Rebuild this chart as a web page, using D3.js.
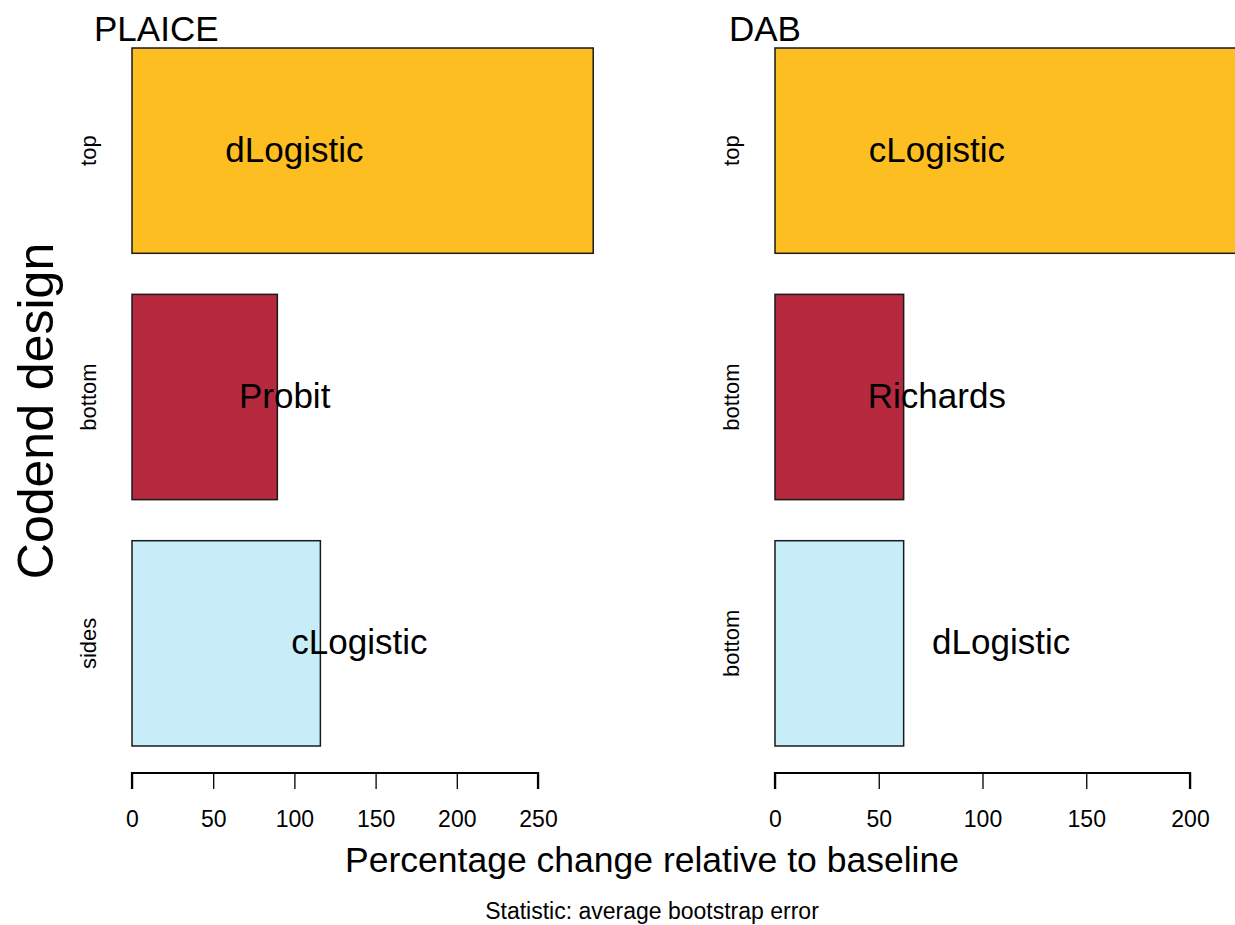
<!DOCTYPE html>
<html>
<head>
<meta charset="utf-8">
<script src="https://cdn.jsdelivr.net/npm/d3@7"></script>
<style>
  html, body { margin: 0; padding: 0; background: #fff; }
  svg { display: block; font-family: "Liberation Sans", Arial, sans-serif; }
</style>
</head>
<body>
<svg id="chart" width="1235" height="925"></svg>
<script>
// ---- data ----
const designsPlaice = ["top", "bottom", "sides"];
const valuesPlaice = [284, 89.5, 116];
const modelsPlaice = ["dLogistic", "Probit", "cLogistic"];
const labelAtPlaice = [100, 94, 140];
const ticksPlaice = [0, 50, 100, 150, 200, 250];

const designsDab = ["top", "bottom", "bottom"];
const valuesDab = [230, 62, 62];
const modelsDab = ["cLogistic", "Richards", "dLogistic"];
const labelAtDab = [78, 78, 109];
const ticksDab = [0, 50, 100, 150, 200];

const barColors = ["#FDBE21", "#B7293E", "#C6EDF8"];
const panelTitles = ["PLAICE", "DAB"];

// ---- drawing ----
const svg = d3.select("#chart");
const W = 1235, H = 925;

const yTop = 48, yBottom = 746;
const band = d3.scaleBand().domain([0, 1, 2]).range([yTop, yBottom])
  .paddingInner(0.2 / 1.2).paddingOuter(0);

const panels = [
  { title: panelTitles[0], designs: designsPlaice, values: valuesPlaice, models: modelsPlaice,
    labelAt: labelAtPlaice, ticks: ticksPlaice, x0: 132, x1: 538, dmax: 250, titleX: 94, ylabX: 88 },
  { title: panelTitles[1], designs: designsDab, values: valuesDab, models: modelsDab,
    labelAt: labelAtDab, ticks: ticksDab, x0: 775, x1: 1190, dmax: 200, titleX: 729, ylabX: 731 }
];

panels.forEach(p => {
  const x = d3.scaleLinear().domain([0, p.dmax]).range([p.x0, p.x1]);
  const g = svg.append("g");

  g.append("text").attr("x", p.titleX).attr("y", 41)
    .attr("font-size", 35).attr("fill", "#000").text(p.title);

  const idx = d3.range(p.values.length);
  g.selectAll("rect.bar").data(idx).join("rect")
    .attr("class", "bar")
    .attr("x", x(0))
    .attr("y", i => band(i))
    .attr("width", i => Math.min(x(p.values[i]), W + 5) - x(0))
    .attr("height", band.bandwidth())
    .attr("fill", i => barColors[i])
    .attr("stroke", "#1a1a1a").attr("stroke-width", 1.5);

  g.selectAll("text.model").data(idx).join("text")
    .attr("class", "model")
    .attr("x", i => x(p.labelAt[i]))
    .attr("y", i => band(i) + band.bandwidth() / 2 + 11)
    .attr("text-anchor", "middle")
    .attr("font-size", 35).attr("fill", "#000")
    .text(i => p.models[i]);

  g.selectAll("text.design").data(idx).join("text")
    .attr("class", "design")
    .attr("transform", i => `translate(${p.ylabX},${band(i) + band.bandwidth() / 2}) rotate(-90)`)
    .attr("text-anchor", "middle").attr("dominant-baseline", "central")
    .attr("font-size", 22).attr("fill", "#000")
    .text(i => p.designs[i]);

  const axis = d3.axisBottom(x).tickValues(p.ticks).tickSize(16).tickPadding(12)
    .tickFormat(d3.format("d"));
  const ag = g.append("g").attr("transform", "translate(0,773)").call(axis);
  ag.select(".domain").attr("d", `M${x(0)},16V0H${x(p.dmax)}V16`)
    .attr("stroke", "#000").attr("stroke-width", 2.2).attr("fill", "none");
  ag.selectAll(".tick line").attr("stroke", "#000").attr("stroke-width", 1.3);
  ag.selectAll(".tick text").attr("font-size", 23).attr("fill", "#000")
    .attr("y", 54).attr("dy", 0)
    .attr("font-family", "Liberation Sans, Arial, sans-serif");
});

svg.append("text")
  .attr("transform", "translate(53,411) rotate(-90)")
  .attr("text-anchor", "middle")
  .attr("font-size", 50).attr("fill", "#000")
  .text("Codend design");

svg.append("text").attr("x", 652).attr("y", 872)
  .attr("text-anchor", "middle").attr("font-size", 35.5).attr("fill", "#000")
  .text("Percentage change relative to baseline");

svg.append("text").attr("x", 652).attr("y", 919)
  .attr("text-anchor", "middle").attr("font-size", 23).attr("fill", "#000")
  .text("Statistic: average bootstrap error");
</script>
</body>
</html>
